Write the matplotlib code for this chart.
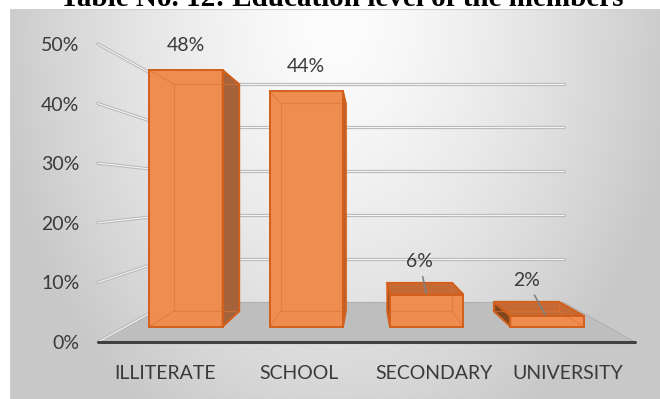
import numpy as np
import matplotlib
matplotlib.use("Agg")
import matplotlib.pyplot as plt
from matplotlib.patches import Polygon, Rectangle
from matplotlib.transforms import offset_copy

# ---- data ----
categories = ["ILLITERATE", "SCHOOL", "SECONDARY", "UNIVERSITY"]
shares = [48, 44, 6, 2]            # percent of members
y_ticks = [0, 10, 20, 30, 40, 50]
title = "Table No. 12: Education level of the members"

# ---- style ----
W, H = 660, 399
FONT = ["Lato", "DejaVu Sans"]
TXT = "#3a3a3a"
FACE = "#EF8D50"
EDGE = "#D2601C"
SIDE_R = "#A4633A"
SIDE_L = "#80471F"
TOP = "#C56A34"
BAR_W = 0.61
Z_FRONT, Z_BACK = 0.32, 0.72      # bar depth inside the floor (0 = front, 1 = back wall)
DIST = 2.77                        # perspective viewing distance in depth units

fig = plt.figure(figsize=(W / 100, H / 100), dpi=100)

# background panel with a soft radial gradient
bg = fig.add_axes([10 / W, 0, (W - 10) / W, (H - 9) / H])
gx, gy = np.meshgrid(np.arange(10, W), np.arange(9, H))
r = np.hypot((gx - 335) / 330.0, (gy - 20) / 450.0)
val = np.clip(253 - 50 * r ** 1.4, 200, 255) / 255.0
bg.imshow(np.dstack([val, val, val]), aspect="auto", interpolation="bilinear")
bg.set_axis_off()
bg.add_patch(Rectangle((0, 0), 1, 1, transform=bg.transAxes, fill=False,
                       edgecolor="#cfcfcf", lw=0.8))

# title
t = fig.text(341.5 / W, 1 - 6.5 / H, title, ha="center", va="baseline",
             family="Liberation Serif", weight="bold", fontsize=20)
fig.canvas.draw()
t.set_fontsize(20 * 563 / t.get_window_extent().width)

# main plotting area = the front plane of the 3-D box
ax = fig.add_axes([98 / W, (H - 342) / H, (635 - 98) / W, (342 - 44) / H])
ax.set_xlim(0.5, len(categories) + 0.5)
ax.set_ylim(0, max(y_ticks))
ax.set_axis_off()
ax.patch.set_alpha(0)

x0, x1 = ax.get_xlim()
y0, y1 = ax.get_ylim()
VX, VY = (x0 + x1) / 2, (y0 + y1) / 2


def proj(x, y, z):
    s = DIST / (DIST + z)
    return VX + s * (x - VX), VY + s * (y - VY)


def poly(pts, **kw):
    ax.add_patch(Polygon([proj(*p) for p in pts], closed=True, clip_on=False, **kw))


def line(p, q, **kw):
    a, b = proj(*p), proj(*q)
    ax.plot([a[0], b[0]], [a[1], b[1]], clip_on=False, solid_capstyle="round", **kw)


# floor
poly([(x0, 0, 0), (x1, 0, 0), (x1, 0, 1), (x0, 0, 1)],
     facecolor="#BEBEBE", edgecolor="#b0b0b0", lw=0.8, zorder=2)

# gridlines on the side wall and the back wall
for v in y_ticks:
    for p, q in [((x0, v, 0), (x0, v, 1)), ((x0, v, 1), (x1, v, 1))]:
        if v == 0 and p[2] == 1:
            continue
        line(p, q, color="#b8b8b8", lw=2.3, zorder=3)
        line(p, q, color="#f4f4f4", lw=0.8, zorder=3)

# front edge of the floor
line((x0, 0, 0), (x1, 0, 0), color="#404040", lw=2.2, zorder=3.5)

# axis labels
for v in y_ticks:
    ax.annotate(f"{v}%", xy=(x0, v), xytext=(-13.5, -5), textcoords="offset points",
                ha="right", va="baseline", fontsize=14, color=TXT, family=FONT)
for i, name in enumerate(categories):
    ax.annotate(name, xy=(i + 1, 0), xytext=(0, -26.6), textcoords="offset points",
                ha="center", va="baseline", fontsize=14, color=TXT, family=FONT)

# bars
for i, h in enumerate(shares):
    c = i + 1
    xl, xr = c - BAR_W / 2, c + BAR_W / 2
    zf, zb = Z_FRONT, Z_BACK
    front = [(xl, 0, zf), (xr, 0, zf), (xr, h, zf), (xl, h, zf)]
    back = [(xl, 0, zb), (xr, 0, zb), (xr, h, zb), (xl, h, zb)]
    poly(back, facecolor=FACE, edgecolor="none", zorder=4)
    visible = []
    if xr < VX:
        visible.append(([(xr, 0, zf), (xr, h, zf), (xr, h, zb), (xr, 0, zb)], SIDE_R))
    if xl > VX:
        visible.append(([(xl, 0, zf), (xl, h, zf), (xl, h, zb), (xl, 0, zb)], SIDE_L))
    top_visible = h < VY
    if top_visible:
        visible.append(([(xl, h, zf), (xr, h, zf), (xr, h, zb), (xl, h, zb)], TOP))
    for pts, col in visible:
        poly(pts, facecolor=col, edgecolor="none", zorder=5)
    poly(front, facecolor=FACE, edgecolor="none", zorder=6)
    # see-through inner edges
    for k in range(4):
        line(back[k], back[(k + 1) % 4], color="#E07330", lw=0.9, alpha=0.6, zorder=7)
        line(front[k], back[k], color="#E07330", lw=0.9, alpha=0.6, zorder=7)
    # outline of visible faces
    for pts, col in visible + [(front, FACE)]:
        poly(pts, facecolor="none", edgecolor=EDGE, lw=1.4, zorder=8)

    # value label above the highest projected point of the top
    yf = proj(c, h, zf)[1]
    yb = proj(c, h, zb)[1]
    if top_visible:
        anchor = proj(c, h, zb)
        tc = offset_copy(ax.transData, fig=fig, x=0, y=11.5, units="points")
        ax.annotate(f"{h}%", xy=proj(c, h, zf + 0.03), xytext=anchor, textcoords=tc,
                    ha="center", va="baseline", fontsize=14, color=TXT, family=FONT,
                    zorder=9, annotation_clip=False,
                    arrowprops=dict(arrowstyle="-", color="#808080", lw=1.2,
                                    shrinkA=3, shrinkB=0))
    else:
        anchor = proj(c, h, zf) if yf >= yb else proj(c, h, zb)
        ax.annotate(f"{h}%", xy=anchor, xytext=(0, 13.8), textcoords="offset points",
                    ha="center", va="baseline", fontsize=14, color=TXT, family=FONT,
                    zorder=9, annotation_clip=False)

fig.savefig("out.png", dpi=100)
